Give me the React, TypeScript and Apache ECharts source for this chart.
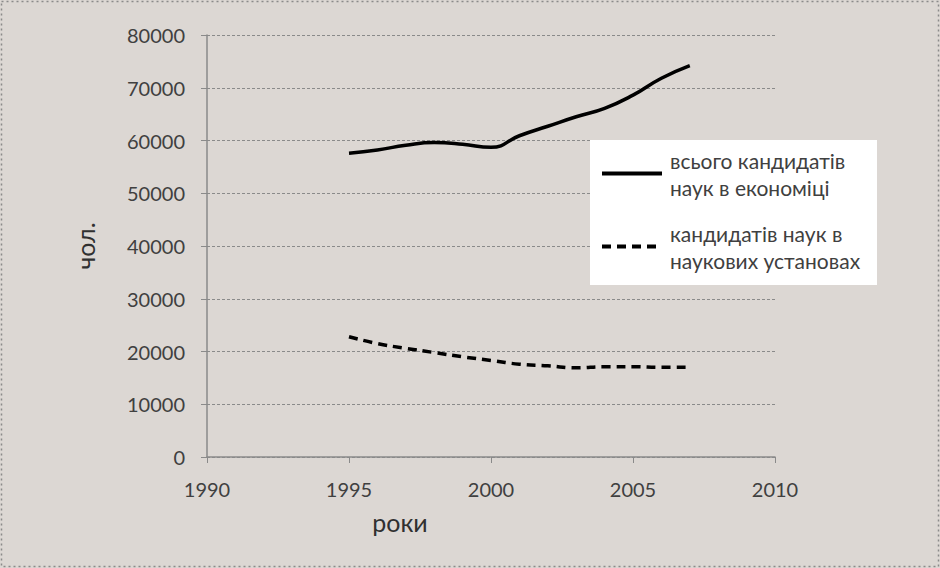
import React, { useEffect, useRef } from "react";
import * as echarts from "echarts";

const years = [1995, 1996, 1997, 1998, 1999, 2000, 2001, 2002, 2003, 2004, 2005, 2006, 2007];
const totalCandidates = [57600, 58200, 59100, 59600, 59300, 58700, 60900, 62700, 64500, 66100, 68600, 71800, 74200];
const instituteCandidates = [22800, 21500, 20600, 19800, 19000, 18300, 17600, 17300, 16900, 17100, 17100, 17000, 17000];
const seriesNames = ["всього кандидатів наук в економіці", "кандидатів наук в наукових установах"];
const legendLabels = ["всього кандидатів\nнаук в економіці", "кандидатів наук в\nнаукових установах"];
const xAxisTitle = "роки";
const yAxisTitle = "чол.";

export default function App() {
  const ref = useRef<HTMLDivElement>(null);
  useEffect(() => {
    if (!ref.current) return;
    const chart = echarts.init(ref.current, null, { renderer: "svg" });
    const font = "Lato, 'Open Sans', sans-serif";
    chart.setOption({
      animation: false,
      backgroundColor: "#dcd7d3",
      textStyle: { fontFamily: font },
      grid: { left: 207, right: 165, top: 35, bottom: 111 },
      xAxis: {
        type: "value",
        min: 1990,
        max: 2010,
        interval: 5,
        name: xAxisTitle,
        nameLocation: "middle",
        nameGap: 52,
        nameTextStyle: { fontSize: 25, color: "#303030", fontFamily: font, padding: [0, 182, 0, 0] },
        axisLine: { show: true, lineStyle: { color: "#8a8a8a", width: 1.5 } },
        axisTick: { show: true, length: 6, lineStyle: { color: "#8a8a8a" } },
        axisLabel: { fontSize: 20, color: "#404040", margin: 22, fontFamily: font, formatter: (v: number) => String(v) },
        splitLine: { show: false },
      },
      yAxis: {
        type: "value",
        min: 0,
        max: 80000,
        interval: 10000,
        name: yAxisTitle,
        nameLocation: "middle",
        nameGap: 110,
        nameRotate: 90,
        nameTextStyle: { fontSize: 25, color: "#303030", fontFamily: font },
        axisLine: { show: true, lineStyle: { color: "#8a8a8a", width: 1.5 } },
        axisTick: { show: true, length: 6, lineStyle: { color: "#8a8a8a" } },
        axisLabel: { fontSize: 20, color: "#404040", margin: 22, fontFamily: font, formatter: (v: number) => String(v) },
        splitLine: { show: true, lineStyle: { color: "#8a8a8a", type: [3, 2], width: 1 } },
      },
      legend: {
        orient: "vertical",
        left: 590,
        top: 125,
        padding: [8, 10, 8, 10],
        itemGap: -8,
        itemWidth: 60,
        itemHeight: 14,
        backgroundColor: "transparent",
        itemStyle: { opacity: 0 },
        lineStyle: { width: 4 },
        formatter: (name: string) => legendLabels[seriesNames.indexOf(name)],
        textStyle: { fontSize: 21, color: "#404040", lineHeight: 27, fontFamily: font, padding: [27, 0, 0, 3] },
        data: seriesNames,
      },
      series: [
        {
          name: seriesNames[0],
          type: "line",
          smooth: true,
          symbol: "none",
          lineStyle: { color: "#000000", width: 3.5 },
          itemStyle: { color: "#000000" },
          data: years.map((y, i) => [y, totalCandidates[i]]),
        },
        {
          name: seriesNames[1],
          type: "line",
          smooth: true,
          symbol: "none",
          lineStyle: { color: "#000000", width: 3.5, type: [9, 6] },
          itemStyle: { color: "#000000" },
          data: years.map((y, i) => [y, instituteCandidates[i]]),
        },
      ],
      graphic: [
        {
          type: "rect",
          shape: { x: 1.5, y: 1.5, width: 937, height: 565 },
          style: { fill: "none", stroke: "#8a8a8a", lineWidth: 1.5, lineDash: [2, 3] },
          silent: true,
        },
        {
          type: "rect",
          shape: { x: 590, y: 140, width: 287, height: 145 },
          style: { fill: "#ffffff" },
          z: 3,
          silent: true,
        },
      ],
    });
    return () => chart.dispose();
  }, []);
  return <div ref={ref} style={{ position: "fixed", left: 0, top: 0, width: 940, height: 568 }} />;
}
